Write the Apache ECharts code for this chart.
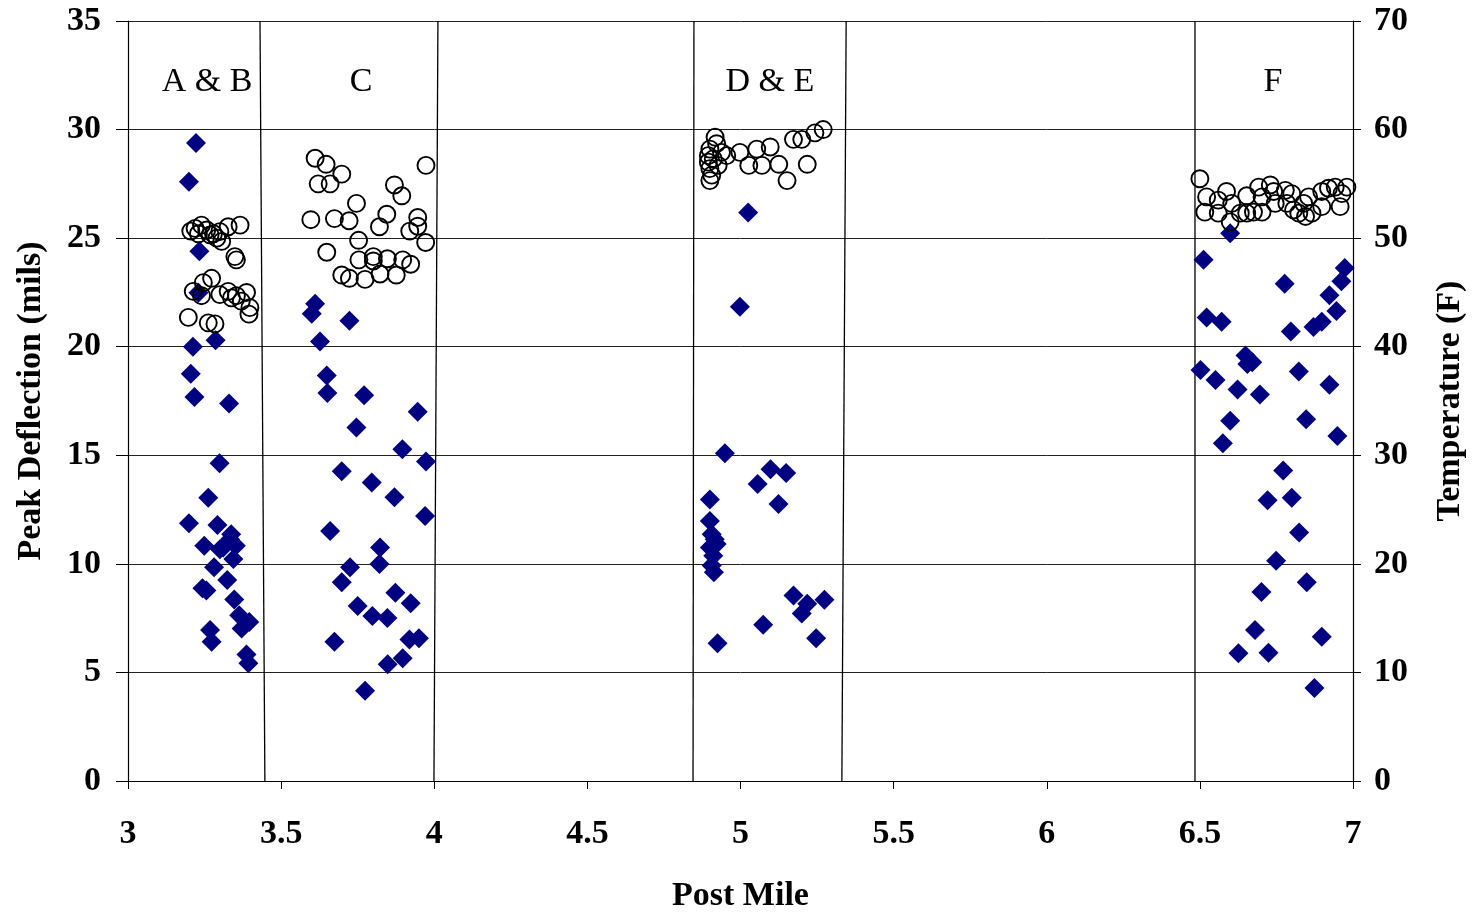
<!DOCTYPE html>
<html>
<head>
<meta charset="utf-8">
<script src="https://cdn.jsdelivr.net/npm/echarts@6/dist/echarts.min.js"></script>
<style>
  html, body { margin: 0; padding: 0; background: #fff; }
  #chart { width: 1475px; height: 918px; }
</style>
</head>
<body>
<div id="chart"></div>
<script>
// Peak deflection (mils) by post mile
const defMile = [
  3.222, 3.199, 3.233, 3.230, 3.212, 3.286, 3.205, 3.217, 3.330, 3.299, 3.262, 3.199, 3.292, 3.337, 3.333, 3.352,
  3.249, 3.311, 3.300, 3.344, 3.281, 3.324, 3.243, 3.256, 3.347, 3.363, 3.396, 3.371, 3.268, 3.273, 3.387, 3.393,
  3.611, 3.600, 3.723, 3.627, 3.649, 3.651, 3.771, 3.946, 3.746, 3.896, 3.973, 3.698, 3.796, 3.870, 3.970, 3.660,
  3.823, 3.821, 3.725, 3.698, 3.873, 3.923, 3.750, 3.798, 3.847, 3.674, 3.919, 3.950, 3.897, 3.848, 3.774,
  5.025, 4.998, 4.949, 5.098, 5.149, 5.056, 5.124, 4.900, 4.900, 4.906, 4.916, 4.922, 4.900, 4.911, 4.906, 4.913,
  5.173, 5.218, 5.200, 5.274, 5.074, 5.247, 4.925,
  6.599, 6.512, 6.777, 6.973, 6.962, 6.923, 6.946, 6.522, 6.571, 6.898, 6.871, 6.797, 6.649, 6.671, 6.655, 6.502,
  6.823, 6.551, 6.923, 6.623, 6.696, 6.599, 6.847, 6.575, 6.949, 6.772, 6.721, 6.800, 6.824, 6.749, 6.849, 6.701,
  6.680, 6.898, 6.626, 6.724, 6.874
];
const defMils = [
  29.38, 27.6, 24.4, 22.48, 20.0, 20.3, 18.75, 17.68, 17.38, 14.63, 13.04, 11.87, 11.79, 11.36, 11.13, 10.83,
  10.83, 10.75, 10.67, 10.22, 9.84, 9.26, 8.88, 8.77, 8.36, 7.63, 7.32, 7.02, 6.95, 6.41, 5.83, 5.42,
  21.98, 21.52, 21.19, 20.24, 18.67, 17.87, 17.76, 17.0, 16.28, 15.28, 14.71, 14.26, 13.75, 13.07, 12.2, 11.51,
  10.75, 9.99, 9.84, 9.15, 8.67, 8.19, 8.06, 7.60, 7.51, 6.41, 6.52, 6.57, 5.65, 5.38, 4.16,
  26.18, 21.84, 15.09, 14.36, 14.18, 13.68, 12.76, 12.96, 11.97, 11.36, 11.13, 10.91, 10.75, 10.37, 9.92, 9.61,
  8.54, 8.16, 7.71, 8.35, 7.20, 6.57, 6.34,
  25.22, 24.0, 22.9, 23.62, 23.01, 22.37, 21.64, 21.34, 21.15, 21.15, 20.91, 20.70, 19.59, 19.28, 19.2, 18.93,
  18.86, 18.47, 18.25, 18.03, 17.80, 16.59, 16.66, 15.55, 15.89, 14.30, 12.93, 13.04, 11.44, 10.14, 9.15, 8.70,
  6.95, 6.64, 5.88, 5.91, 4.28
];

// Pavement temperature (F) by post mile
const tempMile = [
  3.205, 3.219, 3.240, 3.257, 3.279, 3.300, 3.327, 3.366, 3.306, 3.349, 3.354, 3.230, 3.268, 3.290,
  3.213, 3.246, 3.273, 3.240, 3.300, 3.327, 3.338, 3.354, 3.370, 3.387, 3.398, 3.395, 3.197, 3.262, 3.284,
  3.611, 3.647, 3.698, 3.621, 3.660, 3.973, 3.870, 3.894, 3.746, 3.597, 3.674, 3.722, 3.845, 3.821, 3.946, 3.946,
  3.920, 3.972, 3.753, 3.649, 3.754, 3.801, 3.801, 3.847, 3.897, 3.923, 3.698, 3.723, 3.774, 3.823, 3.876,
  4.917, 4.900, 4.938, 4.955, 4.998, 5.053, 5.097, 5.027, 5.070, 5.125, 5.152, 5.218, 5.173, 5.200, 5.243, 5.270,
  4.895, 4.900, 4.906, 4.900, 4.911, 4.922, 4.927, 4.895,
  6.500, 6.522, 6.516, 6.560, 6.560, 6.587, 6.604, 6.599, 6.632, 6.653, 6.653, 6.675, 6.692, 6.703, 6.703, 6.730,
  6.741, 6.746, 6.779, 6.784, 6.800, 6.806, 6.823, 6.839, 6.855, 6.866, 6.845, 6.898, 6.920, 6.942, 6.964, 6.980,
  6.958, 6.898
];
const tempF = [
  50.65, 50.9, 51.2, 50.75, 50.4, 50.6, 51.05, 51.2, 49.7, 48.3, 48.0, 50.4, 50.3, 50.0,
  45.1, 45.9, 46.3, 44.7, 44.8, 45.1, 44.5, 44.7, 44.2, 45.0, 43.6, 43.0, 42.7, 42.2, 42.1,
  57.36, 56.8, 55.9, 55.0, 55.0, 56.7, 54.9, 53.9, 53.2, 51.7, 51.8, 51.6, 52.2, 51.05, 51.9, 51.1,
  50.65, 49.6, 49.8, 48.7, 48.0, 48.3, 47.9, 48.1, 48.0, 47.6, 46.6, 46.3, 46.2, 46.7, 46.6,
  59.3, 58.2, 57.9, 57.6, 57.9, 58.2, 58.4, 56.7, 56.7, 56.8, 55.3, 56.8, 59.1, 59.1, 59.7, 60.0,
  57.0, 56.4, 55.8, 55.3, 57.3, 58.7, 56.7, 57.6,
  55.47, 53.8, 52.4, 53.5, 52.3, 54.3, 53.2, 51.5, 52.3, 53.9, 52.3, 52.4, 54.7, 53.8, 52.4, 54.9,
  54.3, 53.2, 54.4, 53.2, 54.1, 52.6, 52.3, 53.2, 53.8, 52.3, 52.0, 54.3, 54.6, 54.7, 54.1, 54.7,
  52.9, 52.9
];

// Section boundaries (post mile at top and bottom of the plot) and section labels
const dividerTop = [3.431, 4.012, 4.848, 5.345, 6.484];
const dividerBottom = [3.447, 3.999, 4.845, 5.331, 6.484];
const sectionNames = ['A & B', 'C', 'D & E', 'F'];
const sectionMile = [3.258, 3.761, 5.096, 6.739];
const sectionLabelLevel = 32.17;

const FONT = '"Liberation Serif", "Times New Roman", serif';

const dividerSeries = dividerTop.map((t, i) => ({
  type: 'line',
  xAxisIndex: 0,
  yAxisIndex: 0,
  data: [[t, 35], [dividerBottom[i], 0]],
  showSymbol: false,
  symbol: 'none',
  silent: true,
  lineStyle: { color: '#000', width: 1.3 },
  z: 1
}));

const chart = echarts.init(document.getElementById('chart'));
chart.setOption({
  animation: false,
  backgroundColor: '#fff',
  grid: { left: 128, right: 122, top: 21, bottom: 131, containLabel: false },
  xAxis: {
    type: 'value',
    min: 3, max: 7, interval: 0.5,
    name: 'Post Mile',
    nameLocation: 'middle',
    nameGap: 98,
    nameTextStyle: { fontFamily: FONT, fontWeight: 'bold', fontSize: 34, color: '#000' },
    axisLine: { show: true, onZero: false, lineStyle: { color: '#000', width: 1.2 } },
    axisTick: { show: true, length: 8, lineStyle: { color: '#000' } },
    axisLabel: { fontFamily: FONT, fontWeight: 'bold', fontSize: 34, color: '#000', margin: 36 },
    splitLine: { show: false }
  },
  yAxis: [
    {
      type: 'value',
      min: 0, max: 35, interval: 5,
      name: 'Peak Deflection (mils)',
      nameLocation: 'middle',
      nameGap: 80,
      nameTextStyle: { fontFamily: FONT, fontWeight: 'bold', fontSize: 34, color: '#000' },
      axisLine: { show: true, lineStyle: { color: '#000', width: 1.2 } },
      axisTick: { show: true, length: 12, lineStyle: { color: '#000' } },
      axisLabel: { fontFamily: FONT, fontWeight: 'bold', fontSize: 34, color: '#000', margin: 27 },
      splitLine: { show: true, lineStyle: { color: '#222', width: 1 } }
    },
    {
      type: 'value',
      min: 0, max: 70, interval: 10,
      name: 'Temperature (F)',
      nameLocation: 'middle',
      nameGap: 80,
      nameRotate: 90,
      nameTextStyle: { fontFamily: FONT, fontWeight: 'bold', fontSize: 34, color: '#000' },
      axisLine: { show: true, lineStyle: { color: '#000', width: 1.2 } },
      axisTick: { show: true, length: 8, lineStyle: { color: '#000' } },
      axisLabel: { fontFamily: FONT, fontWeight: 'bold', fontSize: 34, color: '#000', margin: 21 },
      splitLine: { show: false }
    }
  ],
  series: [
    ...dividerSeries,
    {
      name: 'Temperature',
      type: 'scatter',
      yAxisIndex: 1,
      symbol: 'circle',
      symbolSize: 17,
      itemStyle: { color: 'rgba(0,0,0,0)', borderColor: '#000', borderWidth: 1.9, opacity: 1 },
      data: tempMile.map((m, i) => [m, tempF[i]]),
      z: 3
    },
    {
      name: 'Peak Deflection',
      type: 'scatter',
      yAxisIndex: 0,
      symbol: 'diamond',
      symbolSize: 20,
      itemStyle: { color: '#000080', opacity: 1 },
      data: defMile.map((m, i) => [m, defMils[i]]),
      z: 2
    },
    {
      name: 'Sections',
      type: 'scatter',
      yAxisIndex: 0,
      symbolSize: 0,
      silent: true,
      itemStyle: { opacity: 1 },
      data: sectionMile.map((m, i) => ({ value: [m, sectionLabelLevel], name: sectionNames[i] })),
      label: {
        show: true,
        position: 'inside',
        formatter: p => p.name,
        fontFamily: FONT,
        fontSize: 34,
        color: '#000',
        textBorderWidth: 0,
        opacity: 1
      },
      z: 4
    }
  ]
});
</script>
</body>
</html>
